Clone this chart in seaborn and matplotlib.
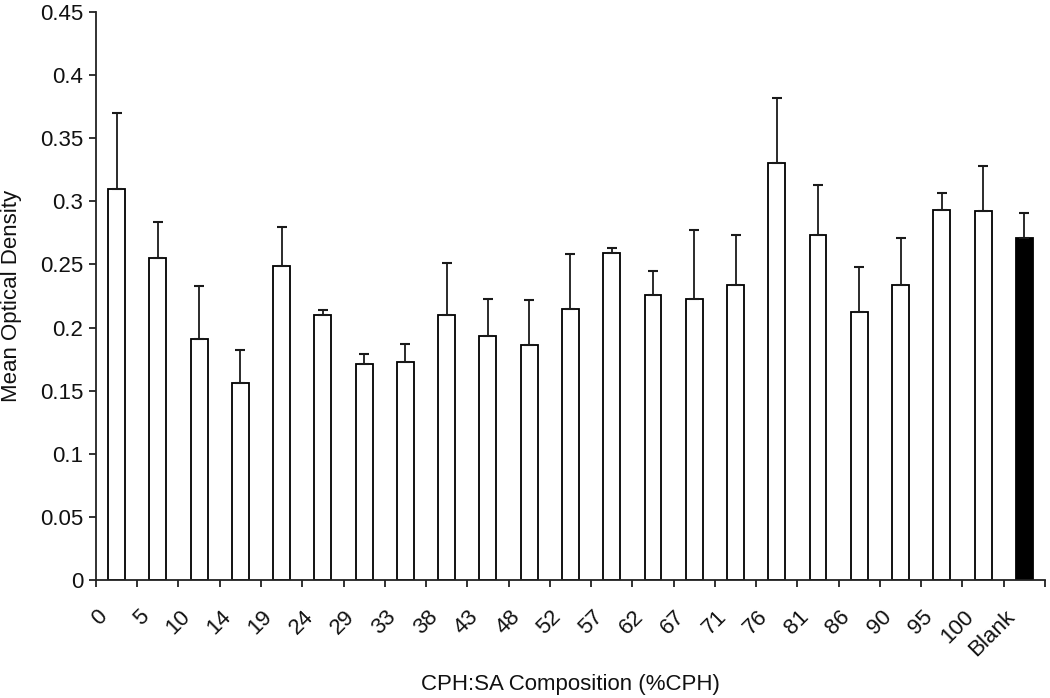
import matplotlib
matplotlib.use("Agg")
import matplotlib.pyplot as plt
import matplotlib.transforms as mtransforms
from matplotlib.ticker import FuncFormatter, FixedLocator
import numpy as np
import pandas as pd
import seaborn as sns

# ---- data ----
categories = ["0", "5", "10", "14", "19", "24", "29", "33", "38", "43", "48",
              "52", "57", "62", "67", "71", "76", "81", "86", "90", "95", "100", "Blank"]
means = [0.310, 0.255, 0.191, 0.156, 0.249, 0.210, 0.171, 0.173, 0.210, 0.193, 0.186,
         0.215, 0.259, 0.226, 0.223, 0.234, 0.330, 0.273, 0.212, 0.234, 0.293, 0.292, 0.271]
err_upper = [0.370, 0.284, 0.233, 0.182, 0.280, 0.214, 0.179, 0.187, 0.251, 0.223, 0.222,
             0.258, 0.263, 0.245, 0.277, 0.273, 0.382, 0.313, 0.248, 0.271, 0.307, 0.328, 0.291]
errors = [u - m for u, m in zip(err_upper, means)]
bar_colors = ["white"] * (len(categories) - 1) + ["black"]
y_ticks = [0, 0.05, 0.1, 0.15, 0.2, 0.25, 0.3, 0.35, 0.4, 0.45]

df = pd.DataFrame({"comp": categories, "od": means})

sns.set_style("white")
plt.rcParams["font.family"] = ["Liberation Sans", "DejaVu Sans"]

FS = 16
fig = plt.figure(figsize=(10.5, 6.98), dpi=100)
ax = fig.add_axes([0.0914, 0.169, 0.9038, 0.8138])

sns.barplot(data=df, x="comp", y="od", hue="comp", order=categories, hue_order=categories,
            palette=bar_colors, width=0.41, edgecolor="black", linewidth=1.3,
            legend=False, ax=ax, errorbar=None)

pos = np.arange(len(categories))
ax.errorbar(pos, means, yerr=[np.zeros(len(errors)), errors], fmt="none",
            ecolor="#1a1a1a", elinewidth=1.3, capsize=3.6, capthick=1.5, zorder=1)

ax.set_xlim(-0.5, len(categories) - 0.5)
ax.set_ylim(0, 0.45)
ax.set_yticks(y_ticks)
ax.yaxis.set_major_formatter(FuncFormatter(lambda v, p: "%g" % round(v, 2)))

# category boundary ticks
ax.xaxis.set_minor_locator(FixedLocator(np.arange(-0.5, len(categories), 1.0)))
ax.tick_params(axis="x", which="minor", length=5, width=1.3, color="#222222", direction="out", bottom=True)
ax.tick_params(axis="x", which="major", length=0, pad=19, labelsize=FS)
ax.tick_params(axis="y", which="major", length=5, width=1.3, color="#222222", direction="out",
               left=True, labelsize=FS, pad=4)

ax.set_xticks(pos)
ax.set_xticklabels(categories, rotation=45, ha="right")
offset = mtransforms.ScaledTranslation(-5 / 100, 0, fig.dpi_scale_trans)
for lab in ax.get_xticklabels():
    lab.set_transform(lab.get_transform() + offset)
for lab in ax.get_xticklabels() + ax.get_yticklabels():
    lab.set_color("#111111")

for side in ["top", "right"]:
    ax.spines[side].set_visible(False)
for side in ["left", "bottom"]:
    ax.spines[side].set_linewidth(1.3)
    ax.spines[side].set_color("#222222")

ax.set_xlabel("CPH:SA Composition (%CPH)", fontsize=FS, color="#111111")
ax.set_ylabel("Mean Optical Density", fontsize=FS, color="#111111")
ax.xaxis.set_label_coords(0.5, -0.166)
ax.yaxis.set_label_coords(-0.078, 0.5)

fig.savefig("out.png", dpi=100)
